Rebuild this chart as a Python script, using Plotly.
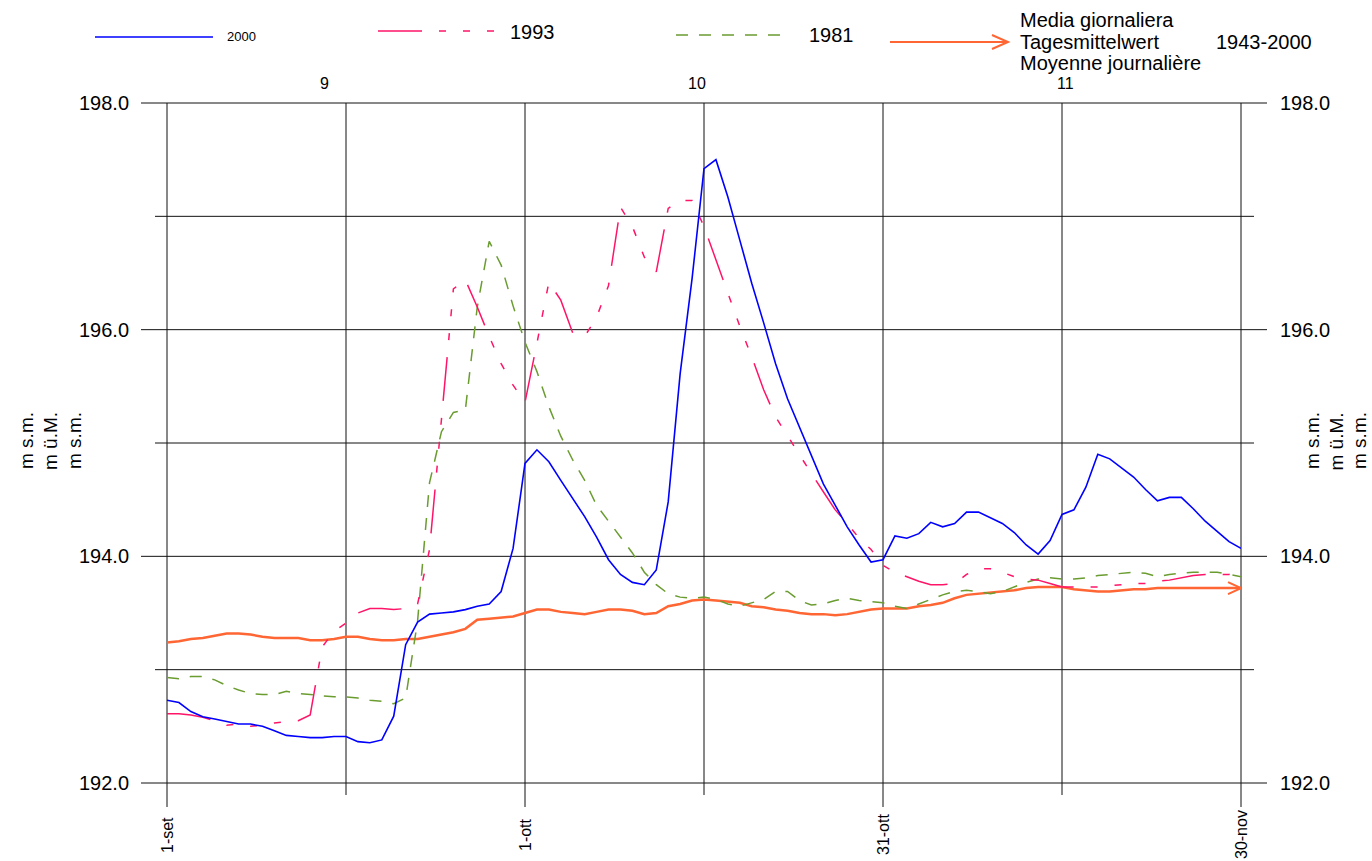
import plotly.graph_objects as go

W, H = 1372, 861
L, R, T, B = 167, 131, 103, 78
PW = W - L - R
PH = H - T - B


def px(xpix):
    return (xpix - L) / PW


def py(ypix):
    return (H - B - ypix) / PH


# ---------------- data ----------------
days = list(range(91))  # 1-set ... 30-nov

lev_2000 = [192.73, 192.71, 192.63, 192.585, 192.565, 192.545, 192.52, 192.52, 192.50, 192.46,
            192.42, 192.41, 192.40, 192.40, 192.41, 192.41, 192.365, 192.355, 192.38, 192.59,
            193.22, 193.42, 193.49, 193.50, 193.51, 193.53, 193.56, 193.58, 193.69, 194.07,
            194.82, 194.94, 194.835, 194.67, 194.51, 194.35, 194.17, 193.97, 193.84, 193.77,
            193.75, 193.88, 194.48, 195.61, 196.45, 197.42, 197.50, 197.17, 196.79, 196.41,
            196.06, 195.70, 195.39, 195.14, 194.89, 194.64, 194.45, 194.26, 194.10, 193.95,
            193.97, 194.18, 194.16, 194.20, 194.30, 194.26, 194.29, 194.39, 194.39, 194.34,
            194.29, 194.21, 194.10, 194.02, 194.14, 194.37, 194.41, 194.61, 194.90, 194.86,
            194.78, 194.70, 194.59, 194.49, 194.52, 194.52, 194.42, 194.31, 194.22, 194.13,
            194.07]

lev_1993 = [192.61, 192.61, 192.60, 192.58, 192.55, 192.51, 192.52, 192.50, 192.51, 192.53,
            192.54, 192.55, 192.60, 193.20, 193.34, 193.41, 193.50, 193.54, 193.54, 193.53,
            193.54, 193.58, 194.06, 195.18, 196.36, 196.44, 196.20, 195.94, 195.70, 195.51,
            195.36, 195.88, 196.42, 196.26, 195.97, 195.94, 196.11, 196.39, 197.08, 196.91,
            196.64, 196.51, 197.07, 197.14, 197.14, 196.91, 196.62, 196.32, 196.03, 195.76,
            195.47, 195.23, 195.06, 194.89, 194.73, 194.57, 194.41, 194.29, 194.16, 194.06,
            193.92, 193.86, 193.82, 193.78, 193.75, 193.75, 193.76, 193.84, 193.89, 193.89,
            193.86, 193.82, 193.80, 193.79, 193.76, 193.73, 193.73, 193.73, 193.73, 193.74,
            193.75, 193.76, 193.76, 193.78, 193.79, 193.81, 193.83, 193.84, 193.84, 193.84,
            193.86]

lev_1981 = [192.93, 192.92, 192.94, 192.94, 192.91, 192.86, 192.82, 192.79, 192.78, 192.78,
            192.81, 192.79, 192.78, 192.77, 192.76, 192.76, 192.75, 192.73, 192.72, 192.70,
            192.75, 193.43, 194.65, 195.10, 195.27, 195.29, 196.20, 196.78, 196.57, 196.21,
            195.89, 195.63, 195.32, 195.06, 194.85, 194.67, 194.45, 194.31, 194.17, 194.03,
            193.86, 193.75, 193.67, 193.64, 193.63, 193.64, 193.62, 193.58, 193.56, 193.59,
            193.62, 193.69, 193.69, 193.61, 193.57, 193.58, 193.61, 193.63, 193.61, 193.60,
            193.59, 193.56, 193.54, 193.58, 193.62, 193.66, 193.69, 193.70, 193.69, 193.67,
            193.69, 193.73, 193.77, 193.80, 193.81, 193.80, 193.80, 193.81, 193.83, 193.84,
            193.85, 193.86, 193.85, 193.82, 193.84, 193.85, 193.86, 193.86, 193.86, 193.84,
            193.82]

lev_mean = [193.24, 193.25, 193.27, 193.28, 193.30, 193.32, 193.32, 193.31, 193.29, 193.28,
            193.28, 193.28, 193.26, 193.26, 193.27, 193.29, 193.29, 193.27, 193.26, 193.26,
            193.27, 193.27, 193.29, 193.31, 193.33, 193.36, 193.44, 193.45, 193.46, 193.47,
            193.50, 193.53, 193.53, 193.51, 193.50, 193.49, 193.51, 193.53, 193.53, 193.52,
            193.49, 193.50, 193.56, 193.58, 193.61, 193.62, 193.61, 193.60, 193.59, 193.56,
            193.55, 193.53, 193.52, 193.50, 193.49, 193.49, 193.48, 193.49, 193.51, 193.53,
            193.54, 193.54, 193.54, 193.56, 193.57, 193.59, 193.63, 193.66, 193.67, 193.68,
            193.69, 193.70, 193.72, 193.73, 193.73, 193.73, 193.71, 193.70, 193.69, 193.69,
            193.70, 193.71, 193.71, 193.72, 193.72, 193.72, 193.72, 193.72, 193.72, 193.72,
            193.72]

y_ticks = [192, 194, 196, 198]
y_tick_text = ["192.0", "194.0", "196.0", "198.0"]
y_grid = [192, 193, 194, 195, 196, 197, 198]
x_grid = [0, 15, 30, 45, 60, 75, 90]
x_date_days = [0, 30, 60, 90]
x_date_text = ["1-set", "1-ott", "31-ott", "30-nov"]
month_text = ["9", "10", "11"]
month_days = [13.2, 44.4, 75.3]
unit_text = ["m s.m.", "m ü.M.", "m s.m."]

X0, X1 = 0, 90
Y0, Y1 = 192, 198

FONT = "Liberation Sans, Arial, Helvetica, sans-serif"
C_BLUE = "#0000FF"
C_PINK = "#FF1468"
C_GREEN = "#6A9C30"
C_ORANGE = "#FF6633"

fig = go.Figure()

fig.add_trace(go.Scatter(x=days, y=lev_mean, mode="lines", name="1943-2000",
                         line=dict(color=C_ORANGE, width=2.5)))
fig.add_trace(go.Scatter(x=days, y=lev_1981, mode="lines", name="1981",
                         line=dict(color=C_GREEN, width=1.5, dash="12px,11px")))
fig.add_trace(go.Scatter(x=days, y=lev_1993, mode="lines", name="1993",
                         line=dict(color=C_PINK, width=1.5,
                                   dash="44px,17px,7px,17px,7px,17px,7px,17px")))
fig.add_trace(go.Scatter(x=days, y=lev_2000, mode="lines", name="2000",
                         line=dict(color=C_BLUE, width=1.6)))

shapes = []
# horizontal grid lines (with tick extensions beyond the axes)
for v in y_grid:
    major = (v % 2 == 0)
    yp = (v - Y0) / (Y1 - Y0)
    shapes.append(dict(type="line", xref="paper", yref="paper",
                       x0=px(141 if major else 155), x1=px(1267 if major else 1254),
                       y0=yp, y1=yp, line=dict(color="#111111", width=1), layer="below"))
# vertical grid lines
for d in x_grid:
    major = d in x_date_days
    xp = (d - X0) / (X1 - X0)
    shapes.append(dict(type="line", xref="paper", yref="paper",
                       x0=xp, x1=xp, y0=py(807 if major else 795), y1=1,
                       line=dict(color="#111111", width=1), layer="below"))

# arrow head at end of the mean line
shapes.append(dict(type="path", xref="x", yref="y", xsizemode="pixel", ysizemode="pixel",
                   xanchor=days[-1], yanchor=lev_mean[-1],
                   path="M-13,6 L0,0 L-13,-6", line=dict(color=C_ORANGE, width=2)))

# legend samples
shapes.append(dict(type="line", xref="paper", yref="paper", x0=px(95), x1=px(213),
                   y0=py(37), y1=py(37), line=dict(color=C_BLUE, width=1.5)))
shapes.append(dict(type="line", xref="paper", yref="paper", x0=px(378), x1=px(497),
                   y0=py(31), y1=py(31),
                   line=dict(color=C_PINK, width=1.5,
                             dash="44px,17px,7px,17px,7px,17px,7px,17px")))
shapes.append(dict(type="line", xref="paper", yref="paper", x0=px(676), x1=px(790),
                   y0=py(35), y1=py(35),
                   line=dict(color=C_GREEN, width=1.5, dash="12px,11px")))
shapes.append(dict(type="path", xref="paper", yref="paper", xsizemode="pixel",
                   ysizemode="pixel", xanchor=px(1008), yanchor=py(42),
                   path="M-118,0 L0,0 M-16,7 L0,0 L-16,-7",
                   line=dict(color=C_ORANGE, width=2)))

annotations = []


def txt(text, xpix, ypix, size, xanchor="center", angle=0):
    annotations.append(dict(text=text, xref="paper", yref="paper", x=px(xpix), y=py(ypix),
                            xanchor=xanchor, yanchor="middle", showarrow=False,
                            textangle=angle, font=dict(family=FONT, size=size, color="#000000")))


# y tick labels, both sides
for v, t in zip(y_ticks, y_tick_text):
    ypix = (H - B) - (v - Y0) / (Y1 - Y0) * PH
    txt(t, 131, ypix, 20, "right")
    txt(t, 1278, ypix, 20, "left")

# date labels at bottom
for d, t in zip(x_date_days, x_date_text):
    txt(t, L + (d - X0) / (X1 - X0) * PW, 835, 16, "center", -90)

# month labels on top
for d, t in zip(month_days, month_text):
    txt(t, L + (d - X0) / (X1 - X0) * PW, 83, 16, "center")

# unit labels
for i, t in enumerate(unit_text):
    txt(t, 26 + 24 * i, 441, 19, "center", -90)
    txt(t, 1312 + 23.5 * i, 441, 19, "center", -90)

# legend texts
txt("2000", 225, 37, 13, "left")
txt("1993", 508, 32, 20, "left")
txt("1981", 807, 35, 20, "left")
txt("Media giornaliera", 1018, 20, 20, "left")
txt("Tagesmittelwert", 1018, 42, 20, "left")
txt("Moyenne journalière", 1018, 63, 20, "left")
txt("1943-2000", 1214, 42, 20, "left")

fig.update_layout(
    width=W, height=H,
    margin=dict(l=L, r=R, t=T, b=B, pad=0),
    paper_bgcolor="white", plot_bgcolor="white",
    showlegend=False,
    xaxis=dict(range=[X0, X1], showgrid=False, zeroline=False, showticklabels=False,
               ticks="", showline=False, fixedrange=True),
    yaxis=dict(range=[Y0, Y1], showgrid=False, zeroline=False, showticklabels=False,
               ticks="", showline=False, fixedrange=True),
    shapes=shapes,
    annotations=annotations,
    font=dict(family=FONT),
)

fig.write_html("out.html", config={"displayModeBar": False},
               post_script="document.body.style.margin='0px';"
                           "document.body.style.overflow='hidden';")
